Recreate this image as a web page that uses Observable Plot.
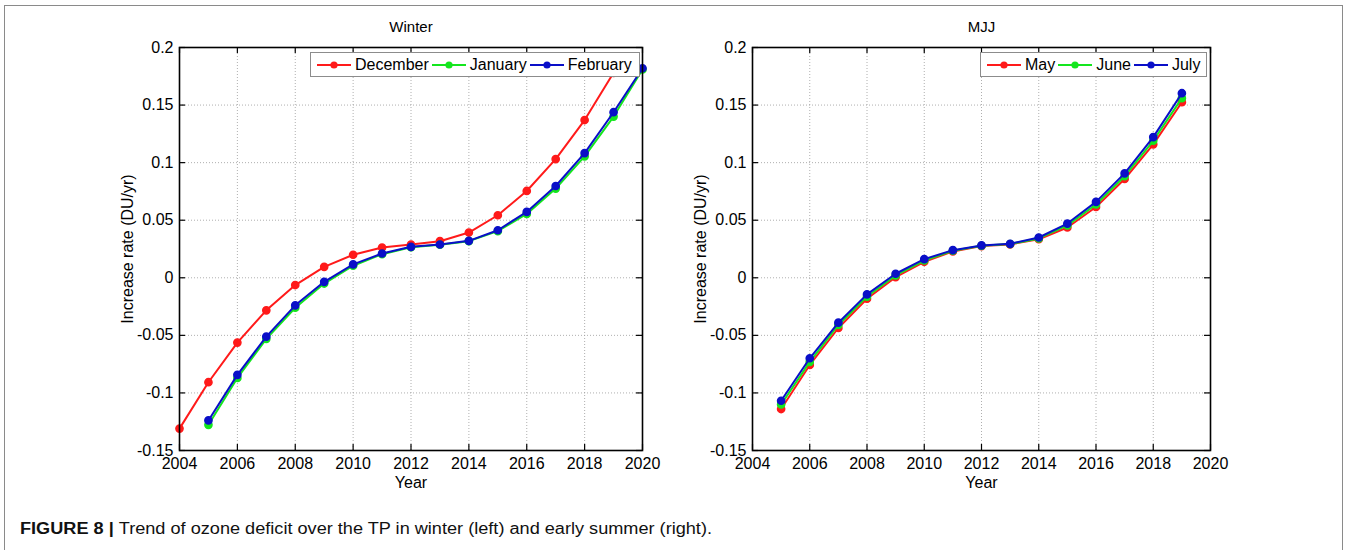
<!DOCTYPE html>
<html>
<head>
<meta charset="utf-8">
<script src="https://cdn.jsdelivr.net/npm/d3@7"></script>
<script src="https://cdn.jsdelivr.net/npm/@observablehq/plot@0.6"></script>
<style>
  html, body { margin: 0; padding: 0; background: #fff; }
  body { width: 1350px; height: 550px; overflow: hidden; position: relative; font-family: "Liberation Sans", Arial, sans-serif; }
  #frame { position: absolute; left: 4px; top: 5px; width: 1339px; height: 600px; border: 1.5px solid #8a8a8a; box-sizing: border-box; }
  .chart { position: absolute; top: 0; }
  .legend { position: absolute; background: #fff; border: 1px solid #8c8c8c; box-sizing: border-box; display: flex; align-items: center; font-size: 16px; color: #000; padding-left: 6px; white-space: nowrap; }
  .legend .item { display: flex; align-items: center; margin-right: 3px; }
  .legend svg { margin-right: 4px; }
  #caption { position: absolute; left: 0; top: 505px; }
</style>
</head>
<body>
<div id="frame"></div>
<div id="left" class="chart" style="left:0px"></div>
<div id="right" class="chart" style="left:675px"></div>
<div id="legendLeft" class="legend" style="left:310px;top:52px;width:330px;height:25px"></div>
<div id="legendRight" class="legend" style="left:980px;top:52px;width:227px;height:25px"></div>
<svg id="caption" width="1350" height="45"></svg>
<script>
// ---- data ----
const decYears = [2004, 2005, 2006, 2007, 2008, 2009, 2010, 2011, 2012, 2013, 2014, 2015, 2016, 2017, 2018, 2019];
const janFebYears = [2005, 2006, 2007, 2008, 2009, 2010, 2011, 2012, 2013, 2014, 2015, 2016, 2017, 2018, 2019, 2020];
const december = [-0.131, -0.0907, -0.0563, -0.0283, -0.0063, 0.0095, 0.0200, 0.0263, 0.0289, 0.0318, 0.0393, 0.0543, 0.0754, 0.1031, 0.137, 0.178];
const january  = [-0.1277, -0.087, -0.053, -0.026, -0.005, 0.0105, 0.0205, 0.0265, 0.0287, 0.0318, 0.0405, 0.0555, 0.0775, 0.1055, 0.140, 0.181];
const february = [-0.1239, -0.0843, -0.0511, -0.0239, -0.0035, 0.0116, 0.0211, 0.0269, 0.0289, 0.0321, 0.0413, 0.0572, 0.0797, 0.1083, 0.1438, 0.182];

const mjjYears = [2005, 2006, 2007, 2008, 2009, 2010, 2011, 2012, 2013, 2014, 2015, 2016, 2017, 2018, 2019];
const may  = [-0.114, -0.0757, -0.0436, -0.0182, 0.0006, 0.0139, 0.0229, 0.0275, 0.0290, 0.0335, 0.0437, 0.0615, 0.0858, 0.1159, 0.1525];
const june = [-0.110, -0.0730, -0.0410, -0.0163, 0.0020, 0.0150, 0.0235, 0.0278, 0.0293, 0.0342, 0.0455, 0.0637, 0.0882, 0.1190, 0.1560];
const july = [-0.1068, -0.0699, -0.0390, -0.0144, 0.0035, 0.0162, 0.0240, 0.0281, 0.0295, 0.0350, 0.0471, 0.0659, 0.0907, 0.1222, 0.1603];

const xTicks = [2004, 2006, 2008, 2010, 2012, 2014, 2016, 2018, 2020];
const yTicks = [-0.15, -0.1, -0.05, 0, 0.05, 0.1, 0.15, 0.2];

const seriesColors = ["#ff1a1a", "#14e61e", "#0a0fc8"];

const winterSeries = [
  {name: "December", years: decYears, values: december},
  {name: "January", years: janFebYears, values: january},
  {name: "February", years: janFebYears, values: february}
];
const mjjSeries = [
  {name: "May", years: mjjYears, values: may},
  {name: "June", years: mjjYears, values: june},
  {name: "July", years: mjjYears, values: july}
];

const FONT = "'Liberation Sans', Arial, sans-serif";

function makeChart(title, series, marginLeft, marginRight) {
  const width = 675, height = 500, marginTop = 47, marginBottom = 50;
  const innerW = width - marginLeft - marginRight;
  const innerH = height - marginTop - marginBottom;
  const tickLen = 6;
  const marks = [
    Plot.ruleX(xTicks, {stroke: "#9a9a9a", strokeWidth: 0.8, strokeDasharray: "1,2"}),
    Plot.ruleY(yTicks, {stroke: "#9a9a9a", strokeWidth: 0.8, strokeDasharray: "1,2"}),
    // inward ticks on all four sides
    Plot.ruleX(xTicks, {stroke: "#000", strokeWidth: 1.2, insetTop: innerH - tickLen}),
    Plot.ruleX(xTicks, {stroke: "#000", strokeWidth: 1.2, insetBottom: innerH - tickLen}),
    Plot.ruleY(yTicks, {stroke: "#000", strokeWidth: 1.2, insetRight: innerW - tickLen}),
    Plot.ruleY(yTicks, {stroke: "#000", strokeWidth: 1.2, insetLeft: innerW - tickLen})
  ];
  series.forEach((s, i) => {
    const rows = s.years.map((y, j) => ({year: y, value: s.values[j]}));
    marks.push(Plot.line(rows, {x: "year", y: "value", stroke: seriesColors[i], strokeWidth: 2}));
    marks.push(Plot.dot(rows, {x: "year", y: "value", fill: seriesColors[i], stroke: seriesColors[i], r: 3.6}));
  });
  marks.push(Plot.frame({stroke: "#000", strokeWidth: 1.6}));
  marks.push(Plot.text([title], {frameAnchor: "top", lineAnchor: "middle", dy: -20, fontSize: 15, fill: "#000"}));
  marks.push(Plot.text(["Year"], {frameAnchor: "bottom", lineAnchor: "middle", dy: 32, fontSize: 16, fill: "#000"}));
  marks.push(Plot.text(["Increase rate (DU/yr)"], {frameAnchor: "left", textAnchor: "middle", lineAnchor: "middle", dx: -52, rotate: -90, fontSize: 16, fill: "#000"}));
  return Plot.plot({
    width, height, marginLeft, marginRight, marginTop, marginBottom,
    style: {fontFamily: FONT, fontSize: "16px", color: "#000", background: "transparent", overflow: "visible"},
    x: {domain: [2004, 2020], ticks: xTicks, tickSize: 0, tickPadding: 7, tickFormat: d => String(d), label: null},
    y: {domain: [-0.15, 0.2], ticks: yTicks, tickSize: 0, tickPadding: 6, tickFormat: d => String(+d.toFixed(2)), label: null},
    marks
  });
}

document.getElementById("left").appendChild(makeChart("Winter", winterSeries, 179, 33));
document.getElementById("right").appendChild(makeChart("MJJ", mjjSeries, 77, 140));

function buildLegend(id, series) {
  const el = document.getElementById(id);
  series.forEach((s, i) => {
    const item = document.createElement("div");
    item.className = "item";
    const c = seriesColors[i];
    item.innerHTML = `<svg width="34" height="10"><line x1="0" y1="5" x2="34" y2="5" stroke="${c}" stroke-width="2"/><circle cx="17" cy="5" r="3.6" fill="${c}"/></svg><span>${s.name}</span>`;
    el.appendChild(item);
  });
}
buildLegend("legendLeft", winterSeries);
buildLegend("legendRight", mjjSeries);

// caption
const cap = document.getElementById("caption");
cap.innerHTML = `<text x="20" y="29" font-family="${FONT.replace(/'/g, "")}" font-size="16" fill="#111" textLength="692" lengthAdjust="spacingAndGlyphs"><tspan font-weight="bold">FIGURE 8 | </tspan><tspan>Trend of ozone deficit over the TP in winter (left) and early summer (right).</tspan></text>`;
</script>
</body>
</html>
